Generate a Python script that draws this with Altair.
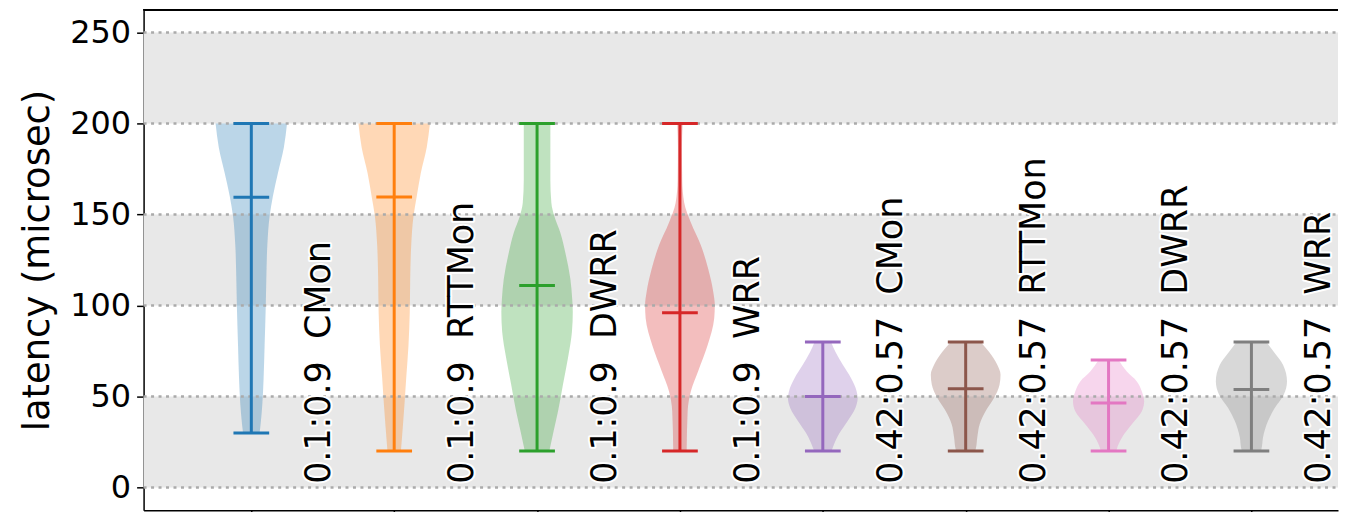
import altair as alt
import pandas as pd

# ---------------- data ----------------
positions = [1, 2, 3, 4, 5, 6, 7, 8]
ratios = ["0.1:0.9"] * 4 + ["0.42:0.57"] * 4
names = ["CMon", "RTTMon", "DWRR", "WRR", "CMon", "RTTMon", "DWRR", "WRR"]
colors = ["#1f77b4", "#ff7f0e", "#2ca02c", "#d62728",
          "#9467bd", "#8c564b", "#e377c2", "#7f7f7f"]
mins = [30, 20, 20, 20, 20, 20, 20, 20]
maxs = [200, 200, 200, 200, 80, 80, 70, 80]
medians = [159.5, 159.6, 111, 96, 50, 54.3, 46.5, 53.8]

# violin outlines: latency and half-width (x units)
shape_lat = [
    [30, 34.8, 45.7, 60, 78, 96.4, 114.5, 133, 149, 160, 172.7, 187, 200],
    [20, 33, 45.7, 60, 78, 96.4, 114.5, 133, 149, 160, 172.7, 187, 200],
    [20, 31, 42, 56.5, 71, 85.5, 96.4, 103.6, 114.5, 129, 140, 149, 156.5, 169, 187, 200],
    [20, 42, 53, 64, 78, 93, 100, 107.5, 120, 133, 145.5, 156.5, 169, 187, 200],
    [20, 22, 29.2, 36.5, 43.7, 49.2, 52.8, 60, 67.4, 74.6, 80],
    [20, 21, 27.5, 34.8, 42, 49.2, 56.5, 62, 67.4, 74.6, 80],
    [20, 21.2, 27.4, 34.7, 41.9, 47.4, 52.8, 58.3, 63.7, 70],
    [20, 21, 27.5, 36.5, 43.7, 51, 58.3, 67.4, 74.6, 80],
]
shape_hw = [
    [0.058, 0.065, 0.077, 0.086, 0.093, 0.100, 0.105, 0.112, 0.128, 0.151, 0.186, 0.228, 0.250],
    [0.047, 0.060, 0.072, 0.084, 0.100, 0.109, 0.112, 0.119, 0.135, 0.158, 0.186, 0.228, 0.250],
    [0.086, 0.116, 0.147, 0.181, 0.216, 0.244, 0.250, 0.246, 0.233, 0.198, 0.163, 0.121, 0.100, 0.093, 0.093, 0.093],
    [0.047, 0.054, 0.077, 0.128, 0.193, 0.240, 0.244, 0.233, 0.198, 0.147, 0.077, 0.030, 0.016, 0.014, 0.019],
    [0.060, 0.070, 0.112, 0.174, 0.228, 0.244, 0.237, 0.198, 0.140, 0.088, 0.058],
    [0.065, 0.070, 0.081, 0.098, 0.140, 0.198, 0.237, 0.244, 0.221, 0.163, 0.105],
    [0.055, 0.058, 0.093, 0.163, 0.233, 0.249, 0.233, 0.198, 0.128, 0.070],
    [0.065, 0.070, 0.081, 0.116, 0.163, 0.226, 0.249, 0.221, 0.156, 0.105],
]

y_ticks = [0, 50, 100, 150, 200, 250]
band_lo = [0, 100, 200]
band_hi = [50, 150, 250]

# ---------------- tables ----------------
NBSP = "\u00a0"
keys = [f"{r}{NBSP}{NBSP}{n}" for r, n in zip(ratios, names)]

vrows = []
for k, p, lats, hws in zip(keys, positions, shape_lat, shape_hw):
    for la, hw in zip(lats, hws):
        vrows.append({"key": k, "lat": la, "lo": p - hw, "hi": p + hw})
violin_df = pd.DataFrame(vrows)

stats_df = pd.DataFrame({
    "key": keys, "pos": positions, "mn": mins, "mx": maxs,
    "lx": [p + 0.475 for p in positions], "ly": [2] * 8,
})
crows = []
for k, p, a, b, m in zip(keys, positions, mins, maxs, medians):
    for v in (a, b, m):
        crows.append({"key": k, "c0": p - 0.125, "c1": p + 0.125, "v": v})
caps_df = pd.DataFrame(crows)

bands_df = pd.DataFrame({"b0": band_lo, "b1": band_hi})
grid_df = pd.DataFrame({"g": y_ticks})

# ---------------- scales / axes ----------------
W, H = 1198, 502
FONT = "DejaVu Sans"
xscale = alt.Scale(domain=[0.246, 8.606], nice=False, zero=False)
yscale = alt.Scale(domain=[-12.5, 262.5], nice=False, zero=False)
xaxis = alt.Axis(values=positions, labels=False, grid=False, tickSize=7,
                 tickColor="black", tickWidth=1.5, domainColor="black",
                 domainWidth=1.5, title=None)
yaxis = alt.Axis(values=y_ticks, grid=False, tickSize=7, tickColor="black",
                 tickWidth=1.5, domainColor="black", domainWidth=1.5,
                 labelFont=FONT, labelFontSize=32, labelColor="black",
                 labelPadding=6, title="latency (microsec)", titleFont=FONT,
                 titleFontSize=37, titleFontWeight="normal", titleColor="black",
                 titlePadding=13)
color = alt.Color("key:N", scale=alt.Scale(domain=keys, range=colors), legend=None)


def X(f):
    return alt.X(f, type="quantitative", scale=xscale, axis=xaxis)


def Y(f):
    return alt.Y(f, type="quantitative", scale=yscale, axis=yaxis)


bands = alt.Chart(bands_df).mark_rect(color="#e8e8e8").encode(
    x=alt.value(0), x2=alt.value(W), y=Y("b0"), y2="b1")

violins = alt.Chart(violin_df).mark_area(
    orient="horizontal", opacity=0.3, interpolate="monotone").encode(
    y=Y("lat"), x=X("lo"), x2="hi", color=color, detail="key:N")

grid = alt.Chart(grid_df).mark_rule(
    color="#aaaaaa", strokeWidth=2.5, strokeDash=[3, 4.5]).encode(
    y=Y("g"), x=alt.value(0), x2=alt.value(W))

stems = alt.Chart(stats_df).mark_rule(strokeWidth=3).encode(
    x=X("pos"), y=Y("mn"), y2="mx", color=color)

caps = alt.Chart(caps_df).mark_rule(strokeWidth=3).encode(
    x=X("c0"), x2="c1", y=Y("v"), color=color)

label_halo = alt.Chart(stats_df).mark_text(
    angle=270, align="left", baseline="middle", font=FONT, fontSize=35,
    color="white", stroke="white", strokeWidth=4, strokeJoin="round").encode(
    x=X("lx"), y=Y("ly"), text="key:N")

labels = alt.Chart(stats_df).mark_text(
    angle=270, align="left", baseline="middle", font=FONT, fontSize=35,
    color="black").encode(
    x=X("lx"), y=Y("ly"), text="key:N")

top_border = alt.Chart(grid_df).mark_rule(color="black", strokeWidth=1.5).encode(
    y=alt.value(0), x=alt.value(0), x2=alt.value(W))

chart = alt.layer(
    bands, violins, grid, stems, caps, label_halo, labels, top_border
).properties(
    width=W, height=H,
    padding={"left": 10, "top": 0, "right": 0, "bottom": 0},
).configure_view(stroke=None)

chart.save("out.html", embed_options={"renderer": "svg", "actions": False})
